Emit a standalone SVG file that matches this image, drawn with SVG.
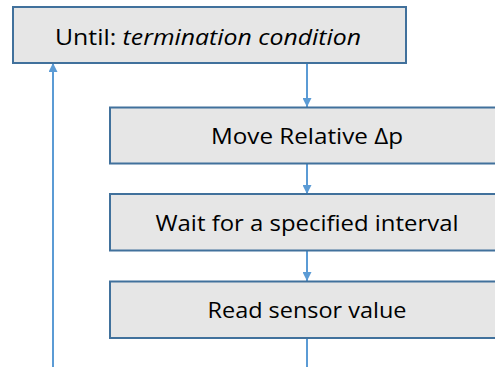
<svg xmlns="http://www.w3.org/2000/svg" width="495" height="367" viewBox="0 0 495 367">
<defs>
<style>
.box{fill:#E6E6E6;stroke:#41719C;stroke-width:2}
.lbl{font-family:"Open Sans","Liberation Sans",sans-serif;font-size:22px;fill:#000;text-anchor:middle}
.con{stroke:#5B9BD5;stroke-width:2;fill:none}
</style>
<marker id="ah" viewBox="0 0 10 10" refX="10" refY="5" markerWidth="5" markerHeight="4.5" orient="auto" markerUnits="strokeWidth">
<path d="M0,0 L10,5 L0,10 Z" fill="#5B9BD5"/>
</marker>
</defs>
<rect width="495" height="367" fill="#fff"/>
<g id="connectors">
<line class="con" x1="307" y1="63" x2="307" y2="107" marker-end="url(#ah)"/>
<line class="con" x1="307" y1="164" x2="307" y2="194" marker-end="url(#ah)"/>
<line class="con" x1="307" y1="251" x2="307" y2="281" marker-end="url(#ah)"/>
<line class="con" x1="307" y1="338" x2="307" y2="367"/>
<line class="con" x1="53" y1="367" x2="53" y2="63" marker-end="url(#ah)"/>
</g>
<g id="until">
<rect class="box" x="13" y="7" width="393" height="56"/>
<text class="lbl" x="208" y="45" textLength="306" lengthAdjust="spacingAndGlyphs">Until: <tspan font-style="italic">termination condition</tspan></text>
</g>
<g id="move">
<rect class="box" x="110" y="107.5" width="394" height="56"/>
<text class="lbl" x="307" y="144" textLength="192" lengthAdjust="spacingAndGlyphs">Move Relative Δp</text>
</g>
<g id="wait">
<rect class="box" x="110" y="194" width="394" height="56.5"/>
<text class="lbl" x="307" y="231" textLength="303" lengthAdjust="spacingAndGlyphs">Wait for a specified interval</text>
</g>
<g id="read">
<rect class="box" x="110" y="281.5" width="394" height="56.5"/>
<text class="lbl" x="307" y="318" textLength="199" lengthAdjust="spacingAndGlyphs">Read sensor value</text>
</g>
</svg>
